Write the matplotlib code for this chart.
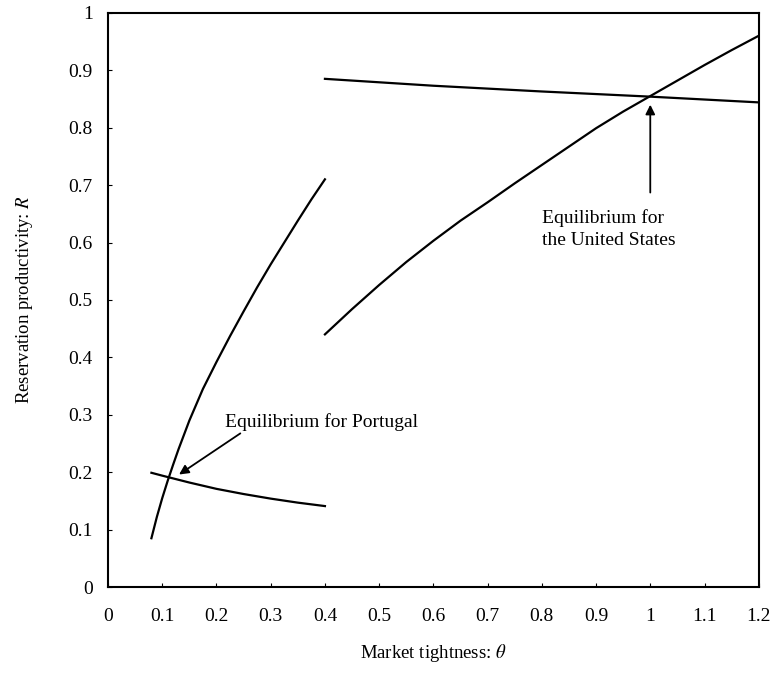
import numpy as np
import matplotlib
matplotlib.use('Agg')
import matplotlib.pyplot as plt

plt.rcParams['font.family'] = ['Liberation Serif', 'DejaVu Serif']
plt.rcParams['mathtext.fontset'] = 'stix'

# Portugal curves
pt_curve_x = [0.08, 0.09, 0.10, 0.11, 0.12, 0.13, 0.14, 0.15, 0.175, 0.2,
              0.225, 0.25, 0.275, 0.3, 0.325, 0.35, 0.375, 0.4]
pt_curve_y = [0.085, 0.122, 0.155, 0.185, 0.213, 0.24, 0.265, 0.29, 0.345, 0.392,
              0.437, 0.48, 0.522, 0.562, 0.6, 0.638, 0.675, 0.71]
pt_line_x = [0.08, 0.1, 0.15, 0.2, 0.25, 0.3, 0.35, 0.4]
pt_line_y = [0.199, 0.194, 0.182, 0.171, 0.162, 0.154, 0.147, 0.141]

# United States curves
us_curve_x = [0.4, 0.45, 0.5, 0.55, 0.6, 0.65, 0.7, 0.75, 0.8, 0.85,
              0.9, 0.95, 1.0, 1.05, 1.1, 1.15, 1.2]
us_curve_y = [0.44, 0.484, 0.526, 0.566, 0.603, 0.638, 0.67, 0.703, 0.735, 0.767,
              0.799, 0.828, 0.855, 0.882, 0.909, 0.935, 0.96]
us_line_x = [0.4, 0.6, 0.8, 1.0, 1.2]
us_line_y = [0.885, 0.873, 0.863, 0.854, 0.844]

xticks = [0, 0.1, 0.2, 0.3, 0.4, 0.5, 0.6, 0.7, 0.8, 0.9, 1, 1.1, 1.2]
xtick_labels = ['0', '0.1', '0.2', '0.3', '0.4', '0.5', '0.6', '0.7', '0.8', '0.9', '1', '1.1', '1.2']
yticks = [0, 0.1, 0.2, 0.3, 0.4, 0.5, 0.6, 0.7, 0.8, 0.9, 1]
ytick_labels = ['0', '0.1', '0.2', '0.3', '0.4', '0.5', '0.6', '0.7', '0.8', '0.9', '1']

fig = plt.figure(figsize=(7.75, 6.74), dpi=100)
ax = fig.add_axes([0.1394, 0.129, 0.8396, 0.852])

for xs, ys in [(pt_curve_x, pt_curve_y), (pt_line_x, pt_line_y),
               (us_curve_x, us_curve_y), (us_line_x, us_line_y)]:
    ax.plot(xs, ys, color='black', linewidth=1.6)

ax.set_xlim(0, 1.2)
ax.set_ylim(0, 1)
ax.set_xticks(xticks)
ax.set_xticklabels(xtick_labels)
ax.set_yticks(yticks)
ax.set_yticklabels(ytick_labels)
ax.tick_params(axis='both', direction='in', length=3, width=0.8, labelsize=14)
ax.tick_params(axis='x', pad=15)
ax.tick_params(axis='y', pad=11)
for s in ax.spines.values():
    s.set_linewidth(1.5)

ax.set_xlabel(r'Market tightness: $\theta$', fontsize=13.5, labelpad=12)
ax.set_ylabel(r'Reservation productivity: $R$', fontsize=13.5, labelpad=24)

ax.annotate('Equilibrium for Portugal', xy=(0.131, 0.196), xytext=(0.216, 0.288),
            fontsize=14, ha='left', va='center',
            arrowprops=dict(arrowstyle='-|>', color='black', lw=1.3,
                            mutation_scale=14, shrinkA=0, shrinkB=0,
                            relpos=(0.1, 0.0)))
ax.annotate('', xy=(1.0, 0.84), xytext=(1.0, 0.687),
            arrowprops=dict(arrowstyle='-|>', color='black', lw=1.3,
                            mutation_scale=14, shrinkA=0, shrinkB=0))
ax.text(0.801, 0.623, 'Equilibrium for\nthe United States', fontsize=14,
        ha='left', va='center', linespacing=1.4)

fig.savefig('out.png', dpi=100)
